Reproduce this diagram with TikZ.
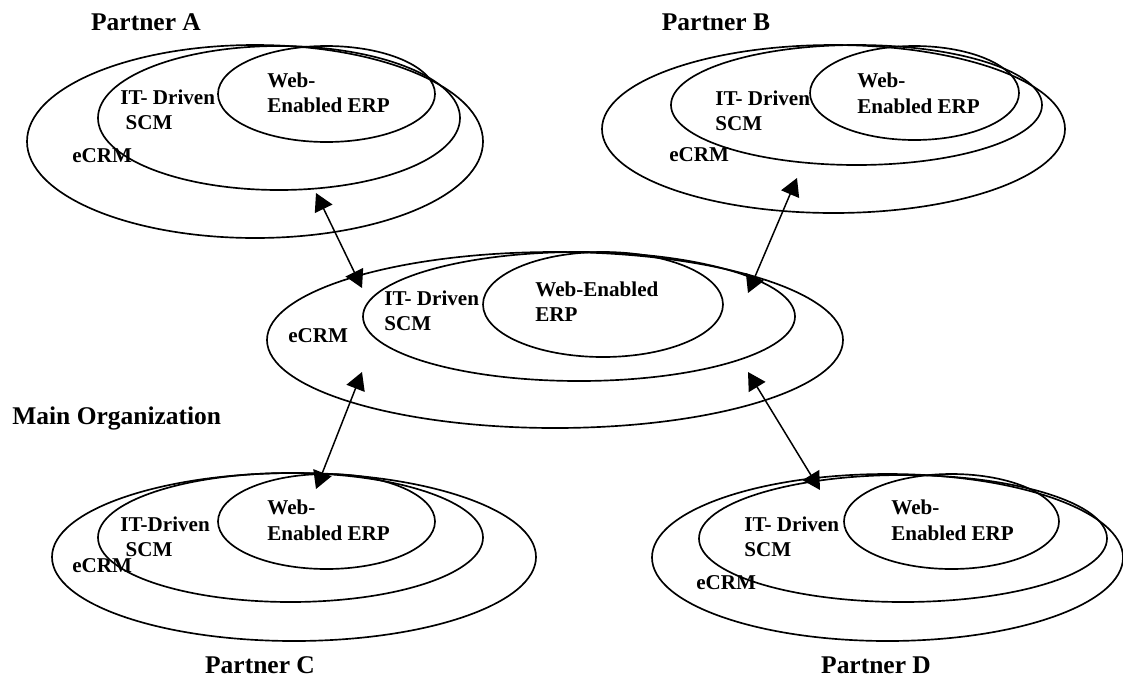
\documentclass[tikz,border=0pt]{standalone}
\usepackage{fontspec}
\setmainfont{Liberation Serif}
\usetikzlibrary{arrows.meta}

\tikzset{
  ring/.style={draw, line width=0.95pt},
  link/.style={{Triangle[length=10pt,width=11pt]}-{Triangle[length=10pt,width=11pt]}, line width=0.85pt},
  lbl/.style={anchor=west, align=left, inner sep=0pt, font=\fontsize{12}{14.5}\selectfont\bfseries},
  title/.style={inner sep=0pt, font=\fontsize{14.5}{17}\selectfont\bfseries},
}

\begin{document}
\begin{tikzpicture}[x=0.02cm, y=-0.02cm]
    \useasboundingbox (0,0) rectangle (1123,677);

    % Partner A
    \node[title] (pA) at (146,22) {Partner A};
    \draw[ring] (255,141.5) ellipse [x radius=228, y radius=96.5];
    \draw[ring] (279,118) ellipse [x radius=181, y radius=72];
    \draw[ring] (326.5,94) ellipse [x radius=108.5, y radius=48];
    \node[lbl] (aErp) at (267,93) {Web-\\Enabled ERP};
    \node[lbl] (aScm) at (120,110) {IT- Driven\\\hspace*{3pt}SCM};
    \node[lbl] (aCrm) at (72,156) {eCRM};

    % Partner B
    \node[title] (pB) at (716,22) {Partner B};
    \draw[ring] (833.5,129) ellipse [x radius=231.5, y radius=84];
    \draw[ring] (856.5,105) ellipse [x radius=185.5, y radius=60];
    \draw[ring] (914.5,93) ellipse [x radius=104.5, y radius=47];
    \node[lbl] (bErp) at (857,93.5) {Web-\\Enabled ERP};
    \node[lbl] (bScm) at (715,111) {IT- Driven\\SCM};
    \node[lbl] (bCrm) at (669,155) {eCRM};

    % main organization
    \node[title, anchor=west] (mainOrg) at (12,418) {Main Organization};
    \draw[ring] (555,340) ellipse [x radius=288, y radius=88];
    \draw[ring] (579,316.5) ellipse [x radius=216, y radius=64.5];
    \draw[ring] (603,304.5) ellipse [x radius=120, y radius=52.5];
    \node[lbl] (mErp) at (535,301.5) {Web-Enabled\\ERP};
    \node[lbl] (mScm) at (384,311) {IT- Driven\\SCM};
    \node[lbl] (mCrm) at (288,336) {eCRM};

    % Partner C
    \node[title] (pC) at (260,665) {Partner C};
    \draw[ring] (294,557) ellipse [x radius=242, y radius=84];
    \draw[ring] (290.5,537.5) ellipse [x radius=192.5, y radius=64.5];
    \draw[ring] (326.5,521.5) ellipse [x radius=108.5, y radius=47.5];
    \node[lbl] (cErp) at (267,520.5) {Web-\\Enabled ERP};
    \node[lbl] (cScm) at (120,537) {IT-Driven\\\hspace*{3pt}SCM};
    \node[lbl] (cCrm) at (72,566) {eCRM};

    % Partner D
    \node[title] (pD) at (876,665) {Partner D};
    \draw[ring] (887.5,557.5) ellipse [x radius=235.5, y radius=83.5];
    \draw[ring] (903,538.5) ellipse [x radius=204, y radius=63.5];
    \draw[ring] (951.5,521.5) ellipse [x radius=107.5, y radius=47.5];
    \node[lbl] (dErp) at (891,520.5) {Web-\\Enabled ERP};
    \node[lbl] (dScm) at (744,537) {IT- Driven\\SCM};
    \node[lbl] (dCrm) at (696,583) {eCRM};

    % arrow ends
    \coordinate (aEnd) at (316,193);
    \coordinate (mA) at (362,288);
    \coordinate (bEnd) at (797,178);
    \coordinate (mB) at (748,293);
    \coordinate (mC) at (362,372);
    \coordinate (cEnd) at (316,489);
    \coordinate (mD) at (748,372);
    \coordinate (dEnd) at (820,490);

    \draw[link] (aEnd) -- (mA);
    \draw[link] (bEnd) -- (mB);
    \draw[link] (mC) -- (cEnd);
    \draw[link] (mD) -- (dEnd);
\end{tikzpicture}
\end{document}
